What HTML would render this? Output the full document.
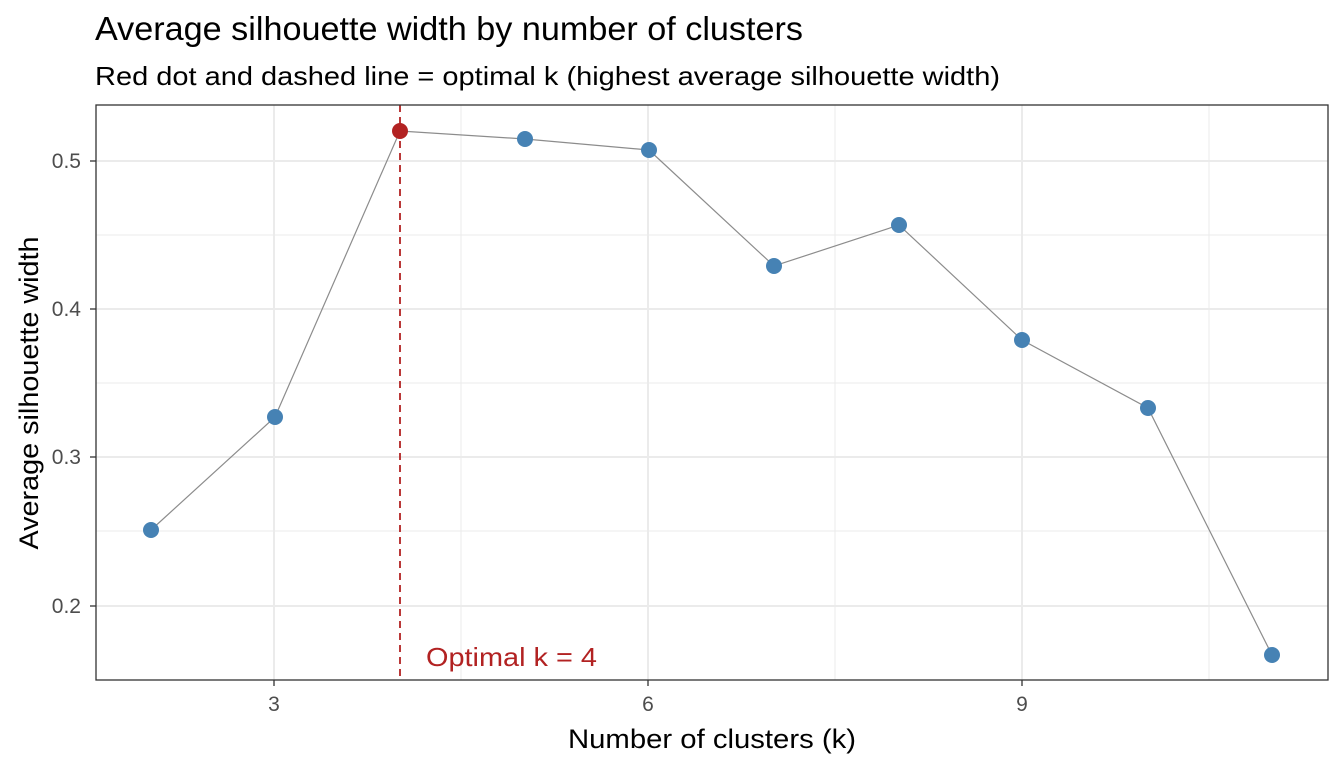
<!DOCTYPE html>
<html><head><meta charset="utf-8"><style>body{margin:0;background:#fff}</style></head><body>
<svg width="1344" height="768" xmlns="http://www.w3.org/2000/svg" font-family="Liberation Sans, Arial, sans-serif">
<rect width="1344" height="768" fill="#fff"/>
<text x="95" y="40" font-size="33" fill="#000" textLength="708" lengthAdjust="spacingAndGlyphs">Average silhouette width by number of clusters</text>
<text x="95" y="85" font-size="26" fill="#000" textLength="905" lengthAdjust="spacingAndGlyphs">Red dot and dashed line = optimal k (highest average silhouette width)</text>
<g stroke="#ebebeb" stroke-width="1">
<line x1="96" x2="1328" y1="235" y2="235"/><line x1="96" x2="1328" y1="383" y2="383"/><line x1="96" x2="1328" y1="531" y2="531"/>
<line x1="461" x2="461" y1="105" y2="680"/><line x1="835" x2="835" y1="105" y2="680"/><line x1="1209" x2="1209" y1="105" y2="680"/>
</g>
<g stroke="#ebebeb" stroke-width="2">
<line x1="96" x2="1328" y1="161" y2="161"/><line x1="96" x2="1328" y1="309" y2="309"/><line x1="96" x2="1328" y1="457" y2="457"/><line x1="96" x2="1328" y1="606" y2="606"/>
<line x1="274" x2="274" y1="105" y2="680"/><line x1="648" x2="648" y1="105" y2="680"/><line x1="1022" x2="1022" y1="105" y2="680"/>
</g>
<line x1="400" x2="400" y1="105" y2="680" stroke="#b22222" stroke-width="1.8" stroke-dasharray="7,5"/>
<polyline fill="none" stroke="#8c8c8c" stroke-width="1.2" points="151,530 275,417 400,131 525,139 649,150 774,266 899,225 1022,340 1148,408 1272,655"/>
<g fill="#4682b4">
<circle cx="151" cy="530" r="8"/><circle cx="275" cy="417" r="8"/><circle cx="525" cy="139" r="8"/><circle cx="649" cy="150" r="8"/><circle cx="774" cy="266" r="8"/><circle cx="899" cy="225" r="8"/><circle cx="1022" cy="340" r="8"/><circle cx="1148" cy="408" r="8"/><circle cx="1272" cy="655" r="8"/>
</g>
<circle cx="400" cy="131" r="8" fill="#b22222"/>
<text x="426" y="666" font-size="26" fill="#b22222" textLength="171" lengthAdjust="spacingAndGlyphs">Optimal k = 4</text>
<rect x="96" y="105" width="1232" height="575" fill="none" stroke="#333" stroke-width="1.3"/>
<g stroke="#333" stroke-width="1.3">
<line x1="90" x2="96" y1="161" y2="161"/><line x1="90" x2="96" y1="309" y2="309"/><line x1="90" x2="96" y1="457" y2="457"/><line x1="90" x2="96" y1="606" y2="606"/>
<line x1="274" x2="274" y1="680" y2="686"/><line x1="648" x2="648" y1="680" y2="686"/><line x1="1022" x2="1022" y1="680" y2="686"/>
</g>
<g font-size="21" fill="#4d4d4d" text-anchor="end">
<text x="81" y="168">0.5</text><text x="81" y="316">0.4</text><text x="81" y="464">0.3</text><text x="81" y="613">0.2</text>
</g>
<g font-size="21" fill="#4d4d4d" text-anchor="middle">
<text x="274" y="711">3</text><text x="648" y="711">6</text><text x="1022" y="711">9</text>
</g>
<text x="712" y="748" font-size="27" text-anchor="middle" textLength="288" lengthAdjust="spacingAndGlyphs">Number of clusters (k)</text>
<text transform="translate(38,393) rotate(-90)" font-size="27" text-anchor="middle" textLength="313" lengthAdjust="spacingAndGlyphs">Average silhouette width</text>
</svg>
</body></html>
